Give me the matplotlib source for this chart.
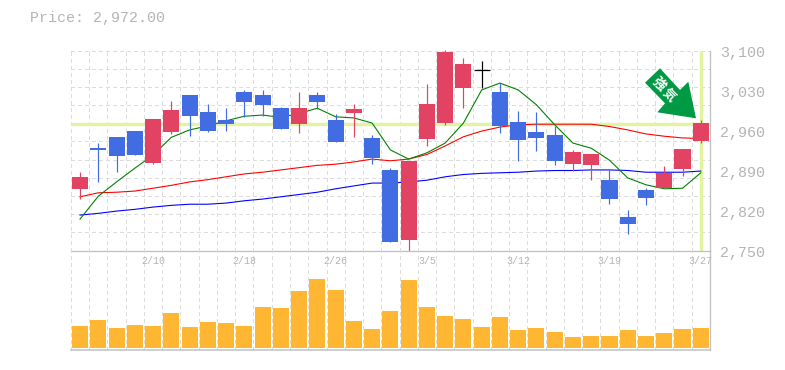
import matplotlib
matplotlib.use("Agg")
import matplotlib.pyplot as plt
from matplotlib.patches import Polygon
import numpy as np

W, H = 785, 370

opens = [2858, 2929, 2949, 2959, 2903, 2957, 3022, 2992, 2978, 3027, 3022, 2999, 2971, 3022, 2978, 2991, 2947, 2891, 2768, 2945, 2973, 3034, 3066, 3027, 2975, 2957, 2952, 2901, 2900, 2873, 2809, 2856, 2859, 2893, 2942]
highs = [2887, 2938, 2949, 2959, 2980, 3012, 3022, 3006, 2999, 3031, 3031, 3001, 3027, 3027, 2989, 3006, 2952, 2894, 2907, 3041, 3101, 3087, 3082, 3043, 2994, 2992, 2968, 2926, 2919, 2891, 2821, 2859, 2898, 2928, 2978]
lows = [2840, 2870, 2887, 2917, 2901, 2954, 2950, 2957, 2959, 2984, 2985, 2963, 2956, 2998, 2940, 2949, 2901, 2765, 2749, 2933, 2970, 2999, 3034, 2956, 2907, 2924, 2900, 2889, 2873, 2831, 2779, 2830, 2859, 2880, 2938]
closes = [2879, 2926, 2915, 2917, 2980, 2996, 2985, 2959, 2971, 3010, 3005, 2963, 2999, 3010, 2940, 2998, 2912, 2765, 2907, 3006, 3097, 3076, 3066, 2968, 2943, 2947, 2907, 2922, 2919, 2840, 2796, 2842, 2886, 2928, 2973]
volume = [69, 87, 63, 72, 69, 108, 66, 81, 78, 69, 126, 123, 174, 213, 180, 84, 60, 114, 210, 126, 99, 90, 66, 96, 54, 63, 48, 33, 36, 36, 54, 36, 45, 60, 63]
ma_short = [2805, 2845, 2870, 2894, 2917, 2948, 2961, 2968, 2977, 2985, 2987, 2983, 2990, 2999, 2984, 2982, 2973, 2926, 2910, 2921, 2938, 2973, 3031, 3043, 3031, 3005, 2970, 2938, 2929, 2908, 2877, 2865, 2858, 2859, 2886]
ma_mid = [2844, 2851, 2852, 2854, 2859, 2864, 2870, 2874, 2879, 2884, 2887, 2891, 2895, 2899, 2901, 2905, 2910, 2907, 2910, 2918, 2933, 2949, 2959, 2966, 2970, 2971, 2971, 2971, 2971, 2967, 2961, 2954, 2950, 2947, 2946]
ma_long = [2812, 2815, 2819, 2822, 2826, 2829, 2831, 2831, 2833, 2837, 2840, 2844, 2848, 2852, 2858, 2863, 2868, 2868, 2870, 2873, 2879, 2883, 2885, 2886, 2887, 2889, 2890, 2890, 2891, 2891, 2890, 2887, 2887, 2887, 2889]
tick_index = [4, 9, 14, 19, 24, 29, 34]
tick_labels = ["2/10", "2/18", "2/26", "3/5", "3/12", "3/19", "3/27"]
price_ticks = [3100, 3030, 2960, 2890, 2820, 2750]
last_price = 2972.00

RED, BLUE, GOLD = "#e24363", "#416ce2", "#ffb733"
GRID, AXC, TXT, HL = "#dcdcdc", "#c0c0c0", "#b4b4b4", "#e2f4a0"
MONO = "Liberation Mono"
PX = 72 / 100

L, R = 70.9, 709.9
T1, B1 = 50.5, 250.5
B2 = 350.0


def rect(l, t, r, b):
    return [l / W, 1 - b / H, (r - l) / W, (b - t) / H]


fig = plt.figure(figsize=(W / 100, H / 100), dpi=100, facecolor="white")
ax = fig.add_axes(rect(L, T1, R, B1))
av = fig.add_axes(rect(L, B1, R, B2))
n = len(opens)
x = np.arange(n)

for a in (ax, av):
    a.set_xlim(-0.5, n - 0.5)
    a.patch.set_alpha(0)
    for s in a.spines.values():
        s.set_visible(False)
    a.tick_params(left=False, bottom=False, right=False, top=False,
                  labelleft=False, labelbottom=False)
    vl = a.vlines(np.arange(n) - 0.5, 0, 1, transform=a.get_xaxis_transform(),
                  colors=GRID, lw=PX, linestyles=(0, (3, 3)), zorder=1)
    vl.set_clip_on(False)
    vl.set_antialiased(False)
    a.axvline(n - 0.5, color=AXC, lw=PX * 1.3, zorder=6, clip_on=False)

ax.set_ylim(price_ticks[-1], price_ticks[0])
hl = ax.hlines(np.linspace(2750, 3100, 12)[1:], -0.5, n - 0.5, colors=GRID, lw=PX,
               linestyles=(0, (3, 3)), zorder=1)
hl.set_clip_on(False)
hl.set_antialiased(False)
ax.axhline(2750, color=AXC, lw=PX * 1.3, zorder=6, clip_on=False)
ax.axhline(last_price, color=HL, lw=3.4 * PX, zorder=2)
ax.axvline(n - 1, color=HL, lw=3.4 * PX, ymin=0.005, ymax=0.995, zorder=2)

ax.plot(x, ma_long, color="#0000ff", lw=PX * 1.1, zorder=3)
ax.plot(x, ma_mid, color="#ff0000", lw=PX * 1.1, zorder=3)
ax.plot(x, ma_short, color="#008000", lw=PX * 1.1, zorder=3)

for i in range(n):
    if opens[i] == closes[i]:
        c = "black"
    elif closes[i] > opens[i]:
        c = RED
    else:
        c = BLUE
    wick = ax.vlines(i, lows[i], highs[i], colors=c, lw=PX * 1.2, zorder=4)
    wick.set_clip_on(False)
    if c == "black":
        ax.hlines(opens[i], i - 0.44, i + 0.44, colors=c, lw=PX * 1.2, zorder=4)
    else:
        ax.bar(i, abs(closes[i] - opens[i]), bottom=min(opens[i], closes[i]),
               width=0.88, color=c, zorder=5, linewidth=0)

av.set_ylim(-6, 294 + 6)
av.axhline(-6, color=AXC, lw=PX * 1.5, zorder=6, clip_on=False)
av.bar(x, volume, width=0.88, color=GOLD, zorder=4, linewidth=0)

for i, lab in zip(tick_index, tick_labels):
    fig.text((L + (i + 0.5) * 18.26) / W, 1 - 261 / H, lab, ha="center", va="center",
             family=MONO, fontsize=10 * PX, color=TXT)

for p in price_ticks:
    y = B1 - (p - 2750) / 350 * (B1 - T1) + 2.5
    fig.text(720 / W, 1 - y / H, f"{p:,}", ha="left", va="center",
             family=MONO, fontsize=15 * PX, color=TXT)

fig.text(30 / W, 1 - 18 / H, f"Price: {last_price:,.2f}", ha="left", va="center",
         family=MONO, fontsize=15 * PX, color=TXT)

arrow_px = [(660, 68.3), (645, 82.7), (665, 103.3), (657.3, 112.3),
            (696, 118.3), (688.3, 81.7), (680, 90)]
fig.add_artist(Polygon([(a / W, 1 - b / H) for a, b in arrow_px], closed=True,
                       transform=fig.transFigure, facecolor="#009944",
                       edgecolor="none", zorder=10))
fig.text(658.7 / W, 1 - 84 / H, "強", rotation=-45, ha="center", va="center", color="white",
         fontsize=13 * PX, fontweight="bold", family=["Noto Sans CJK JP", "DejaVu Sans"], zorder=11)
fig.text(669.3 / W, 1 - 95 / H, "気", rotation=-45, ha="center", va="center", color="white",
         fontsize=13 * PX, fontweight="bold", family=["Noto Sans CJK JP", "DejaVu Sans"], zorder=11)

fig.savefig("out.png", dpi=100, facecolor="white")
